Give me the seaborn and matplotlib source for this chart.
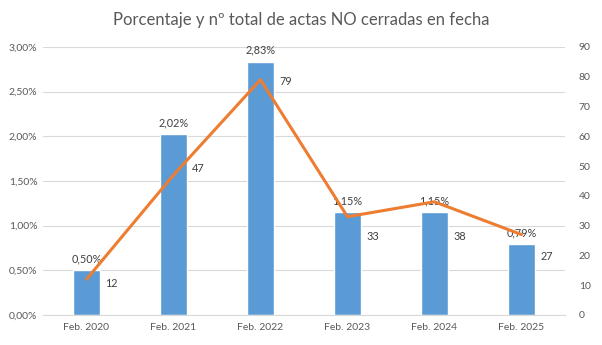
import matplotlib
matplotlib.use("Agg")
import matplotlib.pyplot as plt
import seaborn as sns
import numpy as np
import pandas as pd
from matplotlib.ticker import FuncFormatter, MultipleLocator

# Data
periodos = ["Feb. 2020", "Feb. 2021", "Feb. 2022", "Feb. 2023", "Feb. 2024", "Feb. 2025"]
porcentaje = [0.50, 2.02, 2.83, 1.15, 1.15, 0.79]   # % actas no cerradas
total_actas = [12, 47, 79, 33, 38, 27]             # nº total

titulo = "Porcentaje y nº total de actas NO cerradas en fecha"

sns.set_theme(style="white")
plt.rcParams["font.family"] = ["Lato", "DejaVu Sans"]

azul = "#5B9BD5"
naranja = "#ED7D31"
gris_txt = "#595959"
gris_rejilla = "#D9D9D9"
fs = 7.8

df = pd.DataFrame({"periodo": periodos, "pct": porcentaje, "n": total_actas})

fig = plt.figure(figsize=(6.02, 3.45), dpi=100)
ax = fig.add_axes([0.0714, 0.087, 0.8671, 0.777])

sns.barplot(data=df, x="periodo", y="pct", color=azul, width=0.31,
            saturation=1, ax=ax, zorder=2)
ax.set_ylim(0, 3.0)
ax.yaxis.set_major_locator(MultipleLocator(0.5))
ax.yaxis.set_major_formatter(FuncFormatter(lambda v, _: f"{v:.2f}%".replace(".", ",")))
ax.grid(axis="y", color=gris_rejilla, linewidth=0.8, zorder=0)
ax.set_axisbelow(True)
ax.set_xlabel("")
ax.set_ylabel("")
ax.set_xlim(-0.5, len(periodos) - 0.5)

for s in ["top", "right", "left"]:
    ax.spines[s].set_visible(False)
ax.spines["bottom"].set_color(gris_rejilla)
ax.spines["bottom"].set_linewidth(0.8)

# category boundary ticks on x axis
ax.set_xticks(np.arange(len(periodos)))
ax.set_xticklabels(periodos)
ax.set_xticks(np.arange(-0.5, len(periodos)), minor=True)
ax.tick_params(axis="x", which="major", length=0, pad=6, labelsize=7.5, labelcolor=gris_txt)
ax.tick_params(axis="x", which="minor", length=4, width=0.8, color=gris_rejilla, direction="out")
ax.tick_params(axis="y", length=0, pad=4, labelsize=7.5, labelcolor=gris_txt)

for i, v in enumerate(porcentaje):
    ax.annotate(f"{v:.2f}%".replace(".", ","), (i, v), xytext=(0, 4.5),
                textcoords="offset points", ha="center", va="bottom",
                fontsize=fs, color="#404040")

ax2 = ax.twinx()
sns.lineplot(x=np.arange(len(periodos)), y=total_actas, color=naranja,
             linewidth=2.2, ax=ax2, zorder=3)
ax2.set_ylim(0, 90)
ax2.yaxis.set_major_locator(MultipleLocator(10))
ax2.tick_params(axis="y", length=0, pad=10, labelsize=7.5, labelcolor=gris_txt)
for s in ["top", "right", "left", "bottom"]:
    ax2.spines[s].set_visible(False)
ax2.grid(False)
ax2.set_ylabel("")

# vertical shift (points) of each count label relative to its line vertex
desplaz_y = [-3, 5, -1, -14, -25, -16]
for i, v in enumerate(total_actas):
    ax2.annotate(f"{v}", (i, v), xytext=(13.5, desplaz_y[i]), textcoords="offset points",
                 ha="left", va="center", fontsize=fs, color="#404040")

fig.suptitle(titulo, x=0.5, y=0.965, fontsize=12, color=gris_txt)

fig.savefig("out.png", dpi=100, facecolor="white")
